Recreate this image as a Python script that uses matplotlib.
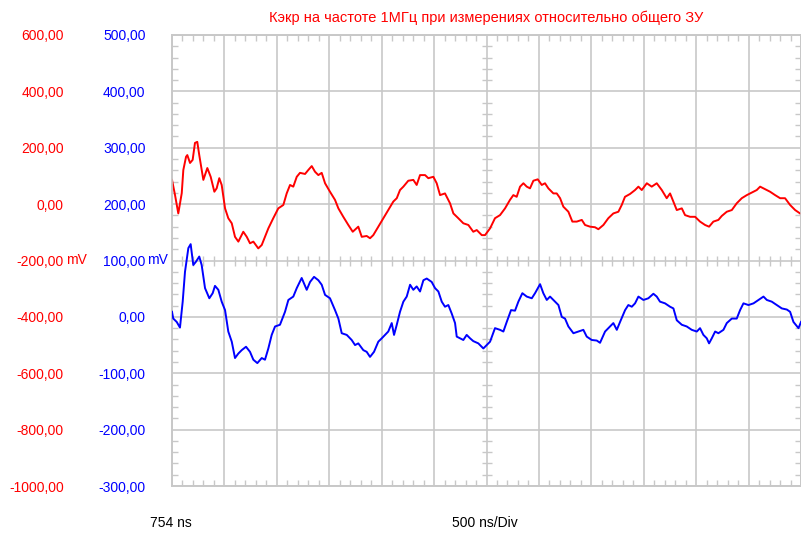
import matplotlib
matplotlib.use("Agg")
import matplotlib.pyplot as plt

# —————— trace data (time in ns from 754 ns, values in mV) ——————
red_t = [0, 29, 60, 93, 108, 134, 146, 172, 197, 219, 241, 260, 299, 337, 369, 404, 426, 451, 474,
         506, 537, 570, 601, 633, 680, 713, 744, 776, 823, 856, 887, 919, 966, 1014, 1062, 1094,
         1126, 1157, 1190, 1221, 1269, 1300, 1333, 1364, 1396, 1428, 1460, 1507, 1555, 1587, 1634,
         1682, 1724, 1777, 1810, 1857, 1889, 1920, 1968, 2016, 2063, 2111, 2144, 2175, 2207, 2254,
         2302, 2334, 2366, 2414, 2445, 2493, 2525, 2557, 2604, 2652, 2684, 2731, 2779, 2827, 2874,
         2907, 2955, 2986, 3034, 3081, 3129, 3177, 3224, 3256, 3288, 3320, 3352, 3384, 3415, 3447,
         3489, 3527, 3558, 3590, 3638, 3670, 3702, 3733, 3781, 3819, 3861, 3909, 3940, 3988, 4035,
         4067, 4115, 4162, 4210, 4258, 4290, 4321, 4369, 4417, 4449, 4481, 4529, 4576, 4624, 4672,
         4719, 4751, 4783, 4815, 4863, 4894, 4942, 4990, 5037, 5085, 5123, 5164, 5212, 5244, 5292,
         5340, 5387, 5435, 5483, 5530, 5578, 5610, 5657, 5705, 5753, 5801, 5848, 5896, 5944, 5991]
red_mv = [86, 32, -33, 39, 121, 168, 174, 146, 157, 217, 221, 174, 86, 128, 97, 44, 56, 92, 68,
          -15, -50, -68, -116, -133, -98, -116, -139, -133, -157, -145, -116, -86, -50, -15, -3, 38,
          68, 62, 97, 111, 107, 121, 135, 115, 103, 111, 74, 44, 15, -15, -45,
          -74, -98, -80, -116, -113, -121, -110, -80, -50, -21, 9, 21, 50, 62, 83,
          86, 68, 103, 103, 92, 97, 74, 32, 38, 3, -33, -50, -68, -74, -98,
          -92, -110, -110, -86, -50, -39, -15, 15, 32, 26, 62, 74, 62, 56, 83,
          88, 68, 74, 56, 38, 38, 21, -9, -27, -62, -62, -56, -74, -80, -82,
          -89, -74, -50, -33, -27, -3, 26, 36, 50, 62, 50, 74, 62, 74, 50,
          21, 38, 9, -21, -15, -39, -45, -45, -62, -74, -80, -62, -56, -42, -27,
          -21, 3, 21, 32, 41, 50, 62, 53, 44, 32, 21, 21, -3, -21, -33]

blue_t = [0, 12, 45, 76, 102, 124, 156, 178, 203, 229, 260, 283, 315, 356, 388, 410, 442, 474, 506,
          537, 570, 601, 633, 665, 706, 744, 776, 814, 856, 887, 919, 951, 983, 1030, 1078, 1110,
          1157, 1190, 1237, 1285, 1317, 1355, 1396, 1428, 1460, 1507, 1555, 1587, 1619, 1667, 1714,
          1746, 1777, 1825, 1857, 1889, 1927, 1968, 2001, 2032, 2063, 2096, 2118, 2144, 2175, 2207,
          2239, 2271, 2302, 2334, 2366, 2398, 2430, 2477, 2509, 2541, 2573, 2604, 2636, 2668, 2700,
          2716, 2748, 2779, 2811, 2843, 2874, 2922, 2970, 3002, 3034, 3081, 3129, 3161, 3193, 3234,
          3272, 3304, 3342, 3384, 3432, 3463, 3511, 3542, 3575, 3606, 3654, 3686, 3718, 3749, 3781,
          3829, 3876, 3924, 3956, 4004, 4052, 4083, 4131, 4179, 4210, 4243, 4274, 4322, 4353, 4386,
          4417, 4449, 4497, 4544, 4592, 4624, 4655, 4703, 4751, 4783, 4815, 4863, 4910, 4958, 5006,
          5037, 5069, 5101, 5123, 5149, 5181, 5212, 5260, 5292, 5340, 5387, 5419, 5451, 5499, 5547,
          5594, 5642, 5674, 5721, 5769, 5817, 5865, 5896, 5928, 5976, 6000]
blue_mv = [9, -3, -9, -19, 27, 80, 122, 129, 92, 98, 107, 92, 51, 33, 42, 55, 48, 27, 12,
           -26, -44, -73, -65, -59, -53, -62, -76, -82, -73, -76, -56, -32, -17, -14, 9, 30,
           36, 51, 69, 48, 62, 71, 65, 57, 39, 33, 12, -3, -29, -32, -41,
           -50, -47, -59, -62, -71, -62, -44, -38, -32, -26, -11, -32, -14, 9, 27,
           36, 57, 48, 54, 45, 65, 68, 62, 51, 45, 27, 18, 21, 6, -11,
           -35, -38, -41, -32, -38, -43, -47, -56, -50, -44, -20, -23, -26, -9, 12,
           11, 27, 42, 36, 33, 42, 58, 42, 30, 36, 27, 21, 0, -3, -17,
           -29, -26, -23, -35, -41, -42, -46, -26, -17, -11, -23, -9, 12, 21, 18,
           24, 36, 30, 33, 41, 36, 27, 24, 18, 15, -6, -14, -17, -23, -26,
           -20, -32, -38, -47, -38, -26, -29, -23, -11, -3, -3, 12, 24, 21, 24,
           30, 36, 30, 27, 21, 15, 13, 9, -9, -20, -9]

red_ticks = [600, 400, 200, 0, -200, -400, -600, -800, -1000]
blue_ticks = [500, 400, 300, 200, 100, 0, -100, -200, -300]

TITLE = "Кэкр на частоте 1МГц при измерениях относительно общего ЗУ"
X_START = "754 ns"
X_SCALE = "500 ns/Div"

RED = "#ff0000"
BLUE = "#0000ff"
GRID = "#c8c8c8"

plt.rcParams['font.family'] = ['Liberation Sans', 'DejaVu Sans']
plt.rcParams['font.size'] = 10

W, H = 801, 533
fig = plt.figure(figsize=(W / 100, H / 100), dpi=100)
# plot box in pixels: x 172..800, y 35..486
ax = fig.add_axes([172 / W, (H - 486) / H, 629 / W, 451 / H])
ax2 = ax.twinx()

ax.set_xlim(0, 6000)
ax.set_ylim(-1000, 600)
ax2.set_ylim(-300, 500)

ax.plot(red_t, red_mv, color=RED, lw=1.4, zorder=3)
ax2.plot(blue_t, blue_mv, color=BLUE, lw=1.4, zorder=3)

# grid every division, small ticks every 1/5 division
ax.set_xticks(range(0, 6001, 500))
ax.set_xticks(range(0, 6001, 100), minor=True)
ax.set_yticks(red_ticks)
ax.set_yticks(range(-1000, 601, 40), minor=True)
ax.grid(True, which='major', color=GRID, lw=1.2)
ax.set_axisbelow(True)
ax.tick_params(which='major', length=0)
ax.tick_params(which='minor', direction='in', length=4.5, width=1.0, color=GRID,
               top=True, right=True, bottom=True, left=True)
ax.tick_params(axis='x', labelbottom=False)
ax.set_yticklabels([f"{v},00" for v in red_ticks], color=RED)
ax.tick_params(axis='y', which='major', pad=78)

ax2.yaxis.set_ticks_position('left')
ax2.set_yticks(blue_ticks)
ax2.set_yticklabels([f"{v},00" for v in blue_ticks], color=BLUE)
ax2.tick_params(axis='y', which='major', length=0, pad=19)
ax2.tick_params(axis='y', which='minor', length=0)

for a in (ax, ax2):
    for s in a.spines.values():
        s.set_color(GRID)
        s.set_linewidth(1.2)

# crossed ticks along the centre lines
dx = 5 / 451
dy = 5 / 629
xt = [t for t in range(100, 6000, 100) if t % 500]
ax.vlines(xt, 0.5 - dx, 0.5 + dx, transform=ax.get_xaxis_transform(), color=GRID, lw=1.0)
yt = [v for v in range(-960, 600, 40) if v % 200]
ax.hlines(yt, 0.5 - dy, 0.5 + dy, transform=ax.get_yaxis_transform(), color=GRID, lw=1.0)

# units next to the centre labels
ax.text((66 - 172) / 629, -200, "mV", color=RED, ha='left', va='center',
        transform=ax.get_yaxis_transform())
ax2.text((147 - 172) / 629, 100, "mV", color=BLUE, ha='left', va='center',
         transform=ax2.get_yaxis_transform())

fig.text(486 / W, 1 - 18 / H, TITLE, color=RED, ha='center', va='center', fontsize=10.5)
fig.text(150 / W, 1 - 523 / H, X_START, color='black', ha='left', va='center')
fig.text(452 / W, 1 - 523 / H, X_SCALE, color='black', ha='left', va='center')

fig.savefig("out.png", dpi=100)
